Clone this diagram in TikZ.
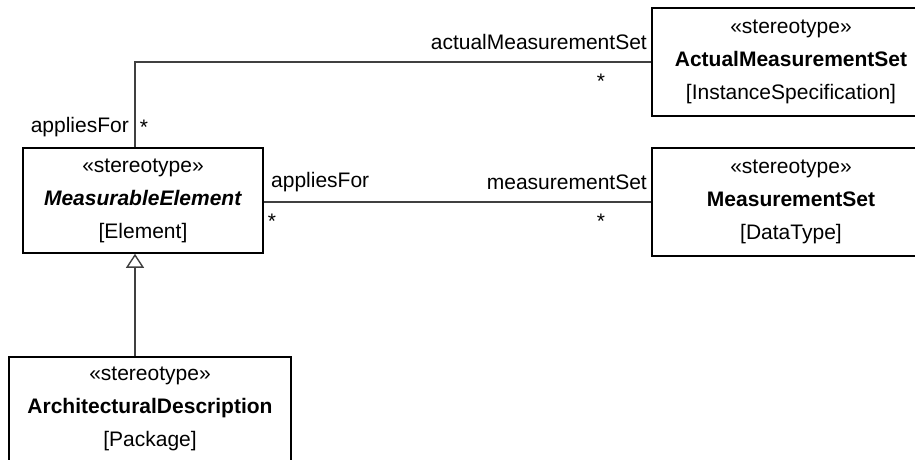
\documentclass[tikz,border=0pt]{standalone}
\usepackage{fontspec}
\setmainfont{Liberation Sans}
\usetikzlibrary{arrows.meta}

\begin{document}
\begin{tikzpicture}[x=1pt, y=-1pt,
    umlbox/.style={draw=black, line width=1.6pt, fill=white, align=center, inner sep=0pt,
        font=\fontsize{21}{33}\selectfont},
    assoc/.style={draw=black!75, line width=1.4pt},
    role/.style={inner sep=0pt, font=\fontsize{21}{25}\selectfont}]
    \useasboundingbox (0,0) rectangle (915,459);
    \clip (0,0) rectangle (915,459);
    % Stereotype boxes
    \node[umlbox, minimum width=278, minimum height=108] (ams) at (791,62)
        {«stereotype»\\\textbf{ActualMeasurementSet}\\{[InstanceSpecification]}};
    \node[umlbox, minimum width=278, minimum height=108] (ms) at (791,202)
        {«stereotype»\\\textbf{MeasurementSet}\\{[DataType]}};
    \node[umlbox, minimum width=240, minimum height=105] (me) at (143,200.5)
        {«stereotype»\\\textbf{\textit{MeasurableElement}}\\{[Element]}};
    \node[umlbox, minimum width=282, minimum height=104] (ad) at (150,409)
        {«stereotype»\\\textbf{ArchitecturalDescription}\\{[Package]}};
    % Associations
    \draw[assoc] ([xshift=-8]me.north) |- (ams.west);
    \draw[assoc] (me.east |- ms.west) -- (ms.west);
    % Generalization
    \draw[assoc, -{Triangle[open, length=14pt, width=18pt, fill=white]}]
        ([xshift=-15]ad.north) -- ([xshift=-8]me.south);
    % Role names and multiplicities
    \node[role, anchor=east] (rolea) at (129,127) {appliesFor};
    \node[role] (multa) at (144,127) {*};
    \node[role, anchor=east] (roleb) at (647,42) {actualMeasurementSet};
    \node[role] (multb) at (601,81) {*};
    \node[role, anchor=west] (rolec) at (271,182) {appliesFor};
    \node[role, anchor=east] (roled) at (647,182) {measurementSet};
    \node[role] (multc) at (272,221) {*};
    \node[role] (multd) at (601,221) {*};
\end{tikzpicture}
\end{document}
